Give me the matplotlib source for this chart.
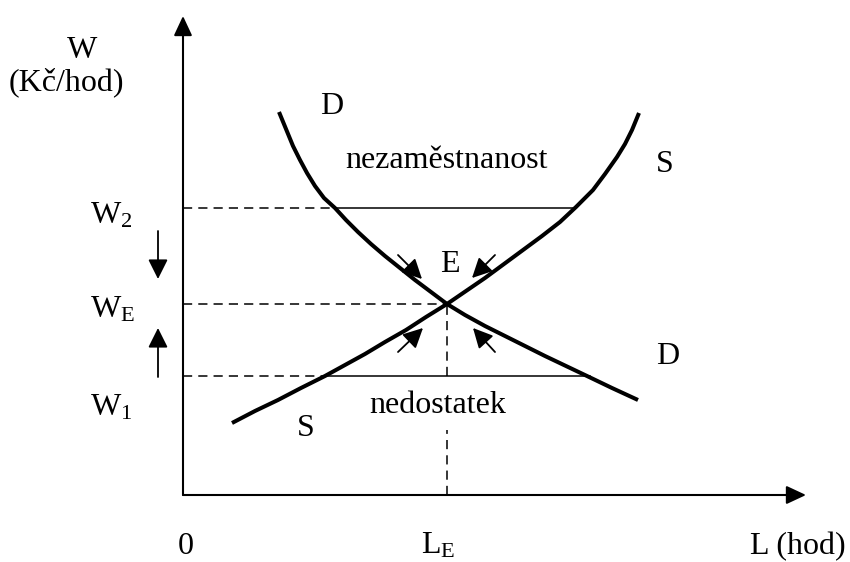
import matplotlib.pyplot as plt

plt.rcParams["font.family"] = ["Liberation Serif", "DejaVu Serif"]
plt.rcParams["mathtext.fontset"] = "custom"
plt.rcParams["mathtext.rm"] = "Liberation Serif"
plt.rcParams["mathtext.it"] = "Liberation Serif"

# Labour market: wage W (Kč/hod) vs labour L (hod), arbitrary units
D_L = [96, 103, 110, 117, 124, 132, 141, 152, 163, 175, 188, 202, 217,
       232, 248, 264, 282, 302, 322, 342, 362, 383, 404, 429, 455]
D_W = [383, 366, 349, 335, 322, 309, 297, 287, 275, 263, 251, 239, 227,
       215, 203, 191, 180, 169, 159, 149, 139, 129, 119, 107, 95]
S_L = [49, 72, 95, 118, 142, 162, 182, 202, 223, 243, 264, 283, 302,
       321, 340, 359, 377, 393, 410, 422, 434, 442, 449, 456]
S_W = [72, 84, 95, 107, 119, 130, 141, 153, 165, 178, 191, 204, 217,
       231, 245, 259, 273, 288, 305, 321, 338, 351, 365, 382]

W2 = 287
WE = 191
W1 = 119
LE = 264
W2_START, W2_END = 152, 390   # nezaměstnanost: D -> S
W1_START, W1_END = 142, 407   # nedostatek: S -> D
L_MAX = 623
W_MAX = 479

fig = plt.figure(figsize=(8.5, 5.62), dpi=100)
ax = fig.add_axes([0, 0, 1, 1])
ax.set_xlim(-183, 667)
ax.set_ylim(-67, 495)
ax.axis("off")

dash = dict(color="black", lw=1.1, dashes=(6, 4))

# axes with arrow heads
axis_arrow = dict(arrowstyle="-|>,head_length=0.6,head_width=0.28",
                  mutation_scale=20, lw=1.5, color="black", shrinkA=0, shrinkB=0)
ax.annotate("", xy=(0, W_MAX), xytext=(0, 0), arrowprops=axis_arrow)
ax.annotate("", xy=(L_MAX, 0), xytext=(0, 0), arrowprops=axis_arrow)

# guide lines
ax.plot([0, W2_START], [W2, W2], **dash)
ax.plot([W2_START, W2_END], [W2, W2], color="black", lw=1.1)
ax.plot([0, LE], [WE, WE], **dash)
ax.plot([0, W1_START], [W1, W1], **dash)
ax.plot([W1_START, W1_END], [W1, W1], color="black", lw=1.1)
ax.plot([LE, LE], [0, 65], **dash)
ax.plot([LE, LE], [W1, WE], **dash)

# demand and supply curves
ax.plot(D_L, D_W, color="black", lw=2.9, solid_capstyle="butt", solid_joinstyle="round")
ax.plot(S_L, S_W, color="black", lw=2.9, solid_capstyle="butt", solid_joinstyle="round")

# arrows pointing to equilibrium
small = dict(arrowstyle="-|>,head_length=0.6,head_width=0.3",
             mutation_scale=20, lw=1.3, color="black", shrinkA=0, shrinkB=0)
eq_arrows = [((215, 240), (239, 216)), ((312, 240), (289, 217)),
             ((215, 143), (240, 167)), ((312, 143), (290, 167))]
for tail, tip in eq_arrows:
    ax.annotate("", xy=tip, xytext=tail, arrowprops=small)

vert = dict(arrowstyle="-|>,head_length=0.6,head_width=0.3",
            mutation_scale=20, lw=1.3, color="black", shrinkA=0, shrinkB=0)
ax.annotate("", xy=(-25, 216), xytext=(-25, 264), arrowprops=vert)
ax.annotate("", xy=(-25, 167), xytext=(-25, 118), arrowprops=vert)

fs = 23
ax.text(-101, 444, "W", fontsize=fs, ha="center", va="center")
ax.text(-117, 413, "(Kč/hod)", fontsize=fs, ha="center", va="center")
ax.text(-93, 272, r"$\mathrm{W_2}$", fontsize=fs, ha="left", va="baseline")
ax.text(-93, 177, r"$\mathrm{W_E}$", fontsize=fs, ha="left", va="baseline")
ax.text(-93, 80, r"$\mathrm{W_1}$", fontsize=fs, ha="left", va="baseline")

ax.text(3, -59, "0", fontsize=fs, ha="center", va="baseline")
ax.text(238, -59, r"$\mathrm{L_E}$", fontsize=fs, ha="left", va="baseline")
ax.text(663, -59, "L (hod)", fontsize=fs, ha="right", va="baseline")

ax.text(149, 388, "D", fontsize=fs, ha="center", va="center")
ax.text(485, 138, "D", fontsize=fs, ha="center", va="center")
ax.text(482, 330, "S", fontsize=fs, ha="center", va="center")
ax.text(123, 66, "S", fontsize=fs, ha="center", va="center")
ax.text(267, 230, "E", fontsize=fs, ha="center", va="center")

ax.text(264, 327, "nezaměstnanost", fontsize=fs, ha="center", va="baseline")
ax.text(255, 82, "nedostatek", fontsize=fs, ha="center", va="baseline")

fig.savefig("out.png", dpi=100)
